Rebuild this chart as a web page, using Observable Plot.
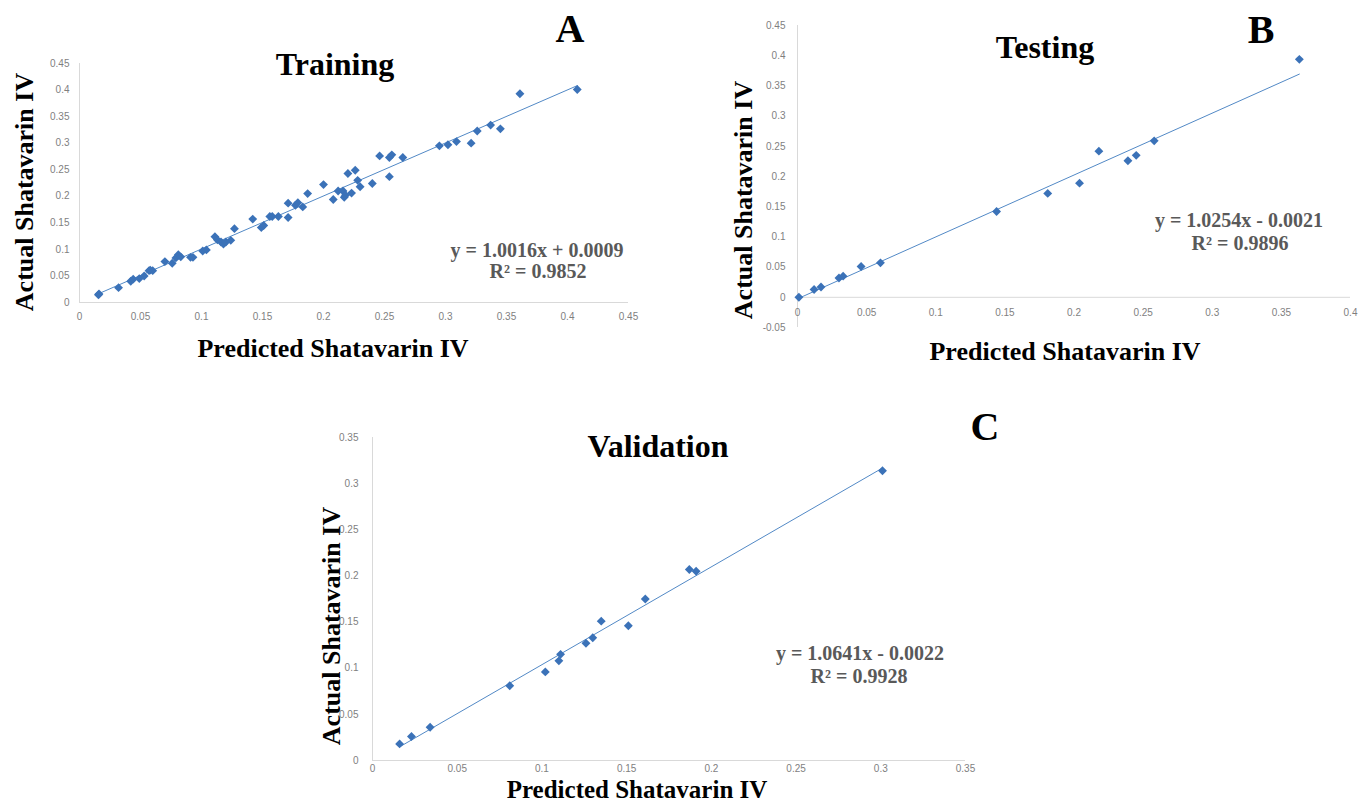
<!DOCTYPE html>
<html>
<head>
<meta charset="utf-8">
<script src="https://cdn.jsdelivr.net/npm/d3@7"></script>
<script src="https://cdn.jsdelivr.net/npm/@observablehq/plot@0.6"></script>
<style>
  html, body { margin: 0; padding: 0; background: #fff; }
  #page { position: relative; width: 1359px; height: 805px; overflow: hidden; background: #fff; }
  #page > figure, #page > svg { position: absolute; margin: 0; }
  .ann { font-family: 'Liberation Serif', 'Times New Roman', serif; font-weight: bold; }
</style>
</head>
<body>
<div id="page"></div>
<script>
// ---------- Data ----------
// Panel A: Training
const trainPredicted = [0.0155,0.016,0.032,0.042,0.044,0.049,0.053,0.057,0.058,0.060,0.070,0.076,0.079,0.081,0.083,0.091,0.093,0.101,0.104,0.111,0.113,0.116,0.118,0.120,0.124,0.127,0.142,0.149,0.151,0.156,0.158,0.163,0.171,0.171,0.177,0.179,0.183,0.187,0.200,0.208,0.212,0.216,0.217,0.218,0.220,0.223,0.226,0.228,0.230,0.240,0.246,0.254,0.256,0.254,0.265,0.295,0.302,0.309,0.321,0.326,0.337,0.345,0.361,0.408];
const trainActual    = [0.0145,0.016,0.028,0.040,0.044,0.045,0.050,0.060,0.061,0.060,0.077,0.074,0.084,0.090,0.086,0.085,0.085,0.097,0.099,0.124,0.118,0.114,0.110,0.114,0.117,0.139,0.157,0.141,0.145,0.162,0.162,0.162,0.187,0.160,0.183,0.188,0.180,0.205,0.222,0.194,0.210,0.210,0.198,0.202,0.243,0.206,0.249,0.230,0.218,0.224,0.276,0.273,0.278,0.237,0.273,0.295,0.297,0.303,0.300,0.323,0.334,0.327,0.393,0.401];
// Panel B: Testing
const testPredicted = [0.001,0.012,0.017,0.030,0.033,0.046,0.060,0.144,0.181,0.204,0.218,0.239,0.245,0.258,0.363];
const testActual    = [0.000,0.013,0.017,0.032,0.035,0.051,0.057,0.142,0.172,0.189,0.242,0.226,0.235,0.259,0.394];
// Panel C: Validation
const valPredicted = [0.016,0.023,0.034,0.081,0.102,0.110,0.111,0.126,0.130,0.135,0.151,0.161,0.187,0.191,0.301];
const valActual    = [0.018,0.026,0.036,0.081,0.096,0.108,0.115,0.127,0.133,0.151,0.146,0.175,0.207,0.205,0.314];

// Tick values
const ticksA = [0,0.05,0.1,0.15,0.2,0.25,0.3,0.35,0.4,0.45];
const ticksBx = [0,0.05,0.1,0.15,0.2,0.25,0.3,0.35,0.4];
const ticksBy = [-0.05,0,0.05,0.1,0.15,0.2,0.25,0.3,0.35,0.4,0.45];
const ticksC = [0,0.05,0.1,0.15,0.2,0.25,0.3,0.35];

// Text
const titles = ["Training","Testing","Validation"];
const letters = ["A","B","C"];
const xLabel = "Predicted Shatavarin IV";
const yLabel = "Actual Shatavarin IV";
const equations = ["y = 1.0016x + 0.0009","y = 1.0254x - 0.0021","y = 1.0641x - 0.0022"];
const r2 = ["R\u00B2 = 0.9852","R\u00B2 = 0.9896","R\u00B2 = 0.9928"];

// ---------- Helpers ----------
const fmt = d => String(Math.round(d * 100) / 100);
const dotColor = "#3b72b8";
const lineColor = "#5289c6";
const axisColor = "#d9d9d9";
const tickFont = "'Liberation Sans', Arial, sans-serif";
const serif = "'Liberation Serif', 'Times New Roman', serif";

const toRows = (xs, ys) => xs.map((x, i) => ({pred: x, act: ys[i]}));

function panel(cfg) {
  const rows = toRows(cfg.xs, cfg.ys);
  const marks = [
    Plot.ruleY([0], {stroke: axisColor, strokeWidth: 1}),
    Plot.ruleX([0], {stroke: axisColor, strokeWidth: 1}),
    Plot.axisY({ticks: cfg.yTicks, tickSize: 0, tickPadding: cfg.yPad, tickFormat: fmt, fontSize: 10, label: null}),
  ];
  if (cfg.xAtZero) {
    marks.push(Plot.text(cfg.xTicks, {x: d => d, y: 0, dy: 15, text: fmt, fontSize: 10, fill: "currentColor"}));
  } else {
    marks.push(Plot.axisX({ticks: cfg.xTicks, tickSize: 0, tickPadding: cfg.xPad, tickFormat: fmt, fontSize: 10, label: null}));
  }
  marks.push(
    Plot.linearRegressionY(rows, {x: "pred", y: "act", stroke: lineColor, strokeWidth: 1, ci: 0}),
    Plot.dot(rows, {x: "pred", y: "act", symbol: "diamond2", r: 4, fill: dotColor, stroke: "none"})
  );
  const p = Plot.plot({
    width: cfg.width, height: cfg.height,
    marginLeft: cfg.ml, marginRight: cfg.mr, marginTop: cfg.mt, marginBottom: cfg.mb,
    x: {domain: cfg.xDomain, axis: cfg.xAtZero ? null : undefined},
    y: {domain: cfg.yDomain},
    style: {fontFamily: tickFont, color: "#7f7f7f", background: "transparent", overflow: "visible"},
    marks
  });
  p.style.left = cfg.left + "px";
  p.style.top = cfg.top + "px";
  return p;
}

const page = document.getElementById("page");

page.appendChild(panel({
  xs: trainPredicted, ys: trainActual,
  left: 0, top: 0, width: 660, height: 340,
  ml: 79, mr: 32, mt: 63, mb: 38,
  xDomain: [0, 0.45], yDomain: [0, 0.45],
  xTicks: ticksA, yTicks: ticksA, xPad: 10, yPad: 10
}));

page.appendChild(panel({
  xs: testPredicted, ys: testActual,
  left: 700, top: 0, width: 659, height: 345,
  ml: 97, mr: 9, mt: 25, mb: 18,
  xDomain: [0, 0.4], yDomain: [-0.05, 0.45],
  xTicks: ticksBx, yTicks: ticksBy, yPad: 12, xAtZero: true
}));

page.appendChild(panel({
  xs: valPredicted, ys: valActual,
  left: 300, top: 420, width: 700, height: 360,
  ml: 72, mr: 35, mt: 17, mb: 20,
  xDomain: [0, 0.35], yDomain: [0, 0.35],
  xTicks: ticksC, yTicks: ticksC, xPad: 4, yPad: 14
}));

// ---------- Annotation text overlay ----------
const svg = d3.select(page).append("svg")
  .attr("width", 1359).attr("height", 805)
  .style("left", "0px").style("top", "0px")
  .style("pointer-events", "none");

const layout = [
  {title: [335, 75], letter: [570, 42], ylab: [33, 192], xlab: [333, 357], eq: [537, 257], r2: [538, 278], xs: 26},
  {title: [1045, 58], letter: [1261, 43], ylab: [752, 200], xlab: [1065, 360], eq: [1239, 227], r2: [1240, 250], xs: 26},
  {title: [658, 457], letter: [985, 440], ylab: [340, 626], xlab: [637, 798], eq: [860, 660], r2: [859, 683], xs: 25}
];

function addText(x, y, size, fill, str, rotate) {
  const t = svg.append("text")
    .attr("class", "ann")
    .attr("font-family", serif).attr("font-weight", "bold")
    .attr("text-anchor", "middle")
    .attr("font-size", size).attr("fill", fill).text(str);
  if (rotate) t.attr("transform", `translate(${x},${y}) rotate(-90)`);
  else t.attr("x", x).attr("y", y);
  return t;
}

layout.forEach((L, i) => {
  addText(L.title[0], L.title[1], 32, "#000", titles[i]);
  addText(L.letter[0], L.letter[1], 40, "#000", letters[i]);
  addText(L.ylab[0], L.ylab[1], 26, "#000", yLabel, true);
  addText(L.xlab[0], L.xlab[1], L.xs, "#000", xLabel);
  addText(L.eq[0], L.eq[1], 20, "#595959", equations[i]);
  addText(L.r2[0], L.r2[1], 20, "#595959", r2[i]);
});
</script>
</body>
</html>
